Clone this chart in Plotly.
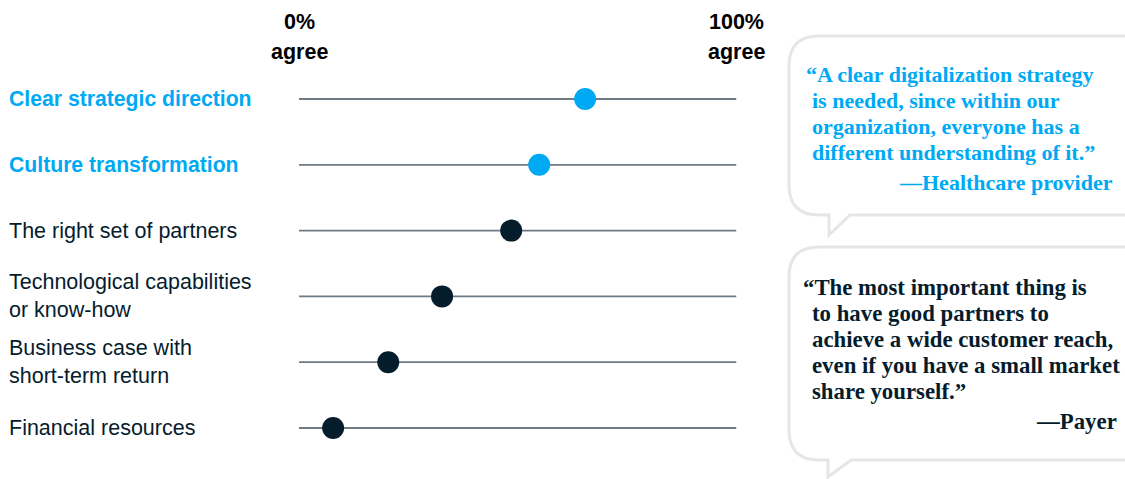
import plotly.graph_objects as go

W, H = 1125, 479

categories = [
    "Clear strategic direction",
    "Culture transformation",
    "The right set of partners",
    "Technological capabilities<br>or know-how",
    "Business case with<br>short-term return",
    "Financial resources",
]
values = [65.4, 54.9, 48.5, 32.7, 20.4, 7.8]
highlight = [True, True, False, False, False, False]

quote1_lines = [
    "\u201cA clear digitalization strategy",
    "is needed, since within our",
    "organization, everyone has a",
    "different understanding of it.\u201d",
]
quote1_source = "\u2014Healthcare provider"
quote2_lines = [
    "\u201cThe most important thing is",
    "to have good partners to",
    "achieve a wide customer reach,",
    "even if you have a small market",
    "share yourself.\u201d",
]
quote2_source = "\u2014Payer"

BLUE = "#00A9F4"
NAVY = "#051C2C"
LINE = "#6E7A84"
BUBBLE = "#E6E6E6"
SANS = "Liberation Sans, Arial, sans-serif"
SERIF = "Liberation Serif, Times New Roman, serif"
PAD = 2  # annotation inner padding compensation


def px(x):
    return x / W


def py(y):
    return 1 - y / H


# axis geometry (pixels)
X0, X100 = 299, 736.5
ROW0, ROWSTEP = 99, 65.8
n = len(categories)
ytop = ROW0 - ROWSTEP / 2
ybot = ROW0 + ROWSTEP * (n - 1) + ROWSTEP / 2

fig = go.Figure()

idx = list(range(n))
# track lines
for i in idx:
    fig.add_shape(type="line", xref="x", yref="y", x0=0, x1=100, y0=i, y1=i,
                  line=dict(color=LINE, width=1.8), layer="below")

colors = [BLUE if h else NAVY for h in highlight]
fig.add_trace(go.Scatter(
    x=values, y=idx, mode="markers",
    marker=dict(size=22, color=colors, line=dict(width=0)),
    cliponaxis=False, hoverinfo="skip", showlegend=False,
))

# category labels
for i, (c, h) in enumerate(zip(categories, highlight)):
    fig.add_annotation(
        text=f"<b>{c}</b>" if h else c, xref="paper", yref="y",
        x=px(9 - PAD), y=i, xanchor="left", yanchor="middle", showarrow=False,
        align="left",
        font=dict(family=SANS, size=21.2 if h else 21.5, color=BLUE if h else NAVY),
    )

# header labels
for xv, t in [(0, "0%"), (100, "100%")]:
    fig.add_annotation(text=f"<b>{t}</b>", xref="x", yref="paper", x=xv, y=py(22),
                       xanchor="center", yanchor="middle", showarrow=False,
                       font=dict(family=SANS, size=21.5, color="#000000"))
    fig.add_annotation(text="<b>agree</b>", xref="x", yref="paper", x=xv, y=py(52),
                       xanchor="center", yanchor="middle", showarrow=False,
                       font=dict(family=SANS, size=21.5, color="#000000"))


def bubble(left, top, bottom, right, r, tail_x, tail_w, tip_y):
    pts = [
        f"M{px(left + r)},{py(top)}",
        f"L{px(right)},{py(top)}",
        f"L{px(right)},{py(bottom)}",
        f"L{px(tail_x + tail_w)},{py(bottom)}",
        f"L{px(tail_x)},{py(tip_y)}",
        f"L{px(tail_x)},{py(bottom)}",
        f"L{px(left + r)},{py(bottom)}",
        f"Q{px(left)},{py(bottom)} {px(left)},{py(bottom - r)}",
        f"L{px(left)},{py(top + r)}",
        f"Q{px(left)},{py(top)} {px(left + r)},{py(top)}",
        "Z",
    ]
    return " ".join(pts)


fig.add_shape(type="path", xref="paper", yref="paper",
              path=bubble(789, 36, 215, 1160, 30, 829, 21, 235),
              line=dict(color=BUBBLE, width=3), fillcolor="white", layer="below")
fig.add_shape(type="path", xref="paper", yref="paper",
              path=bubble(789, 247, 460, 1160, 30, 828, 23, 477),
              line=dict(color=BUBBLE, width=3), fillcolor="white", layer="below")

QSIZE1 = 22
QSIZE2 = 22.8
# quotes
q1_y = [74, 100, 126, 152]
q1_x = [806, 812, 812, 812]
for t, x, y in zip(quote1_lines, q1_x, q1_y):
    fig.add_annotation(text=f"<b>{t}</b>", xref="paper", yref="paper", x=px(x - PAD), y=py(y),
                       xanchor="left", yanchor="middle", showarrow=False,
                       font=dict(family=SERIF, size=QSIZE1, color=BLUE))
fig.add_annotation(text=f"<b>{quote1_source}</b>", xref="paper", yref="paper", x=px(1113 + PAD), y=py(182),
                   xanchor="right", yanchor="middle", showarrow=False,
                   font=dict(family=SERIF, size=QSIZE1, color=BLUE))

q2_y = [287, 313, 339, 365, 391]
q2_x = [803, 812, 812, 812, 812]
for t, x, y in zip(quote2_lines, q2_x, q2_y):
    fig.add_annotation(text=f"<b>{t}</b>", xref="paper", yref="paper", x=px(x - PAD), y=py(y),
                       xanchor="left", yanchor="middle", showarrow=False,
                       font=dict(family=SERIF, size=QSIZE2, color=NAVY))
fig.add_annotation(text=f"<b>{quote2_source}</b>", xref="paper", yref="paper", x=px(1117 + PAD), y=py(421),
                   xanchor="right", yanchor="middle", showarrow=False,
                   font=dict(family=SERIF, size=QSIZE2, color=NAVY))

fig.update_layout(
    width=W, height=H,
    margin=dict(l=0, r=0, t=0, b=0),
    paper_bgcolor="white", plot_bgcolor="white",
    showlegend=False,
    xaxis=dict(domain=[px(X0), px(X100)], range=[0, 100], visible=False, fixedrange=True),
    yaxis=dict(domain=[py(ybot), py(ytop)], range=[n - 0.5, -0.5], visible=False, fixedrange=True),
)

fig.write_html("out.html")
